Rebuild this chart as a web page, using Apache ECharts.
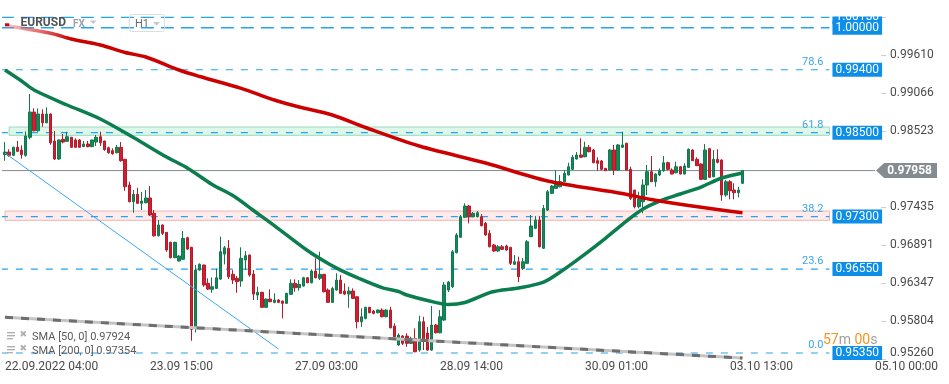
<!DOCTYPE html>
<html><head><meta charset="utf-8">
<script src="https://cdn.jsdelivr.net/npm/echarts@6/dist/echarts.min.js"></script>
<style>html,body{margin:0;padding:0;background:#fff}#c{width:949px;height:384px}</style>
</head><body><div id="c"></div>
<script>
// ---- data ----
// candles: [open, close, low, high]
const ohlc = [
[0.98185,0.98223,0.98099,0.98366],[0.98223,0.98176,0.98156,0.98262],[0.98176,0.98291,0.98166,0.98300],[0.98291,0.98233,0.98228,0.98381],
[0.98252,0.98185,0.98128,0.98319],[0.98176,0.98452,0.98156,0.98519],[0.98434,0.98795,0.98405,0.99053],[0.98795,0.98528,0.98519,0.98848],
[0.98528,0.98767,0.98514,0.98848],[0.98767,0.98642,0.98585,0.98834],[0.98642,0.98767,0.98634,0.98863],[0.98767,0.98356,0.98328,0.98772],
[0.98381,0.98124,0.98109,0.98524],[0.98124,0.98395,0.98109,0.98405],[0.98405,0.98366,0.98348,0.98481],[0.98376,0.98442,0.98366,0.98514],
[0.98434,0.98291,0.98285,0.98440],[0.98395,0.98291,0.98285,0.98419],[0.98395,0.98291,0.98285,0.98409],[0.98300,0.98338,0.98295,0.98381],
[0.98338,0.98300,0.98291,0.98381],[0.98300,0.98395,0.98295,0.98400],[0.98366,0.98434,0.98309,0.98467],[0.98442,0.98356,0.98309,0.98514],
[0.98381,0.98256,0.98242,0.98385],[0.98285,0.98213,0.98199,0.98300],[0.98242,0.98199,0.98185,0.98276],[0.98213,0.98291,0.98205,0.98324],
[0.98291,0.98099,0.98085,0.98366],[0.98119,0.97727,0.97670,0.98125],[0.97752,0.97513,0.97505,0.97799],[0.97513,0.97618,0.97355,0.97680],
[0.97618,0.97490,0.97480,0.97713],[0.97490,0.97523,0.97394,0.97651],[0.97498,0.97566,0.97490,0.97680],[0.97566,0.97323,0.97308,0.97737],
[0.97347,0.97027,0.97013,0.97394],[0.97027,0.97180,0.97013,0.97251],[0.97180,0.97061,0.97037,0.97190],[0.97075,0.96822,0.96798,0.97080],
[0.96932,0.96712,0.96703,0.96941],[0.96712,0.96932,0.96708,0.96941],[0.96665,0.96736,0.96660,0.96751],[0.96689,0.96989,0.96679,0.97094],
[0.96998,0.96836,0.96822,0.97013],[0.96861,0.95688,0.95525,0.96869],[0.95702,0.96536,0.95645,0.96608],[0.96536,0.96618,0.96526,0.96632],
[0.96608,0.96322,0.96297,0.96612],[0.96346,0.96264,0.96250,0.96418],[0.96260,0.96297,0.96211,0.96432],[0.96274,0.96426,0.96268,0.96555],
[0.96407,0.96798,0.96393,0.97013],[0.96765,0.96855,0.96618,0.96880],[0.96847,0.96440,0.96407,0.96965],[0.96475,0.96393,0.96336,0.96536],
[0.96418,0.96369,0.96211,0.96450],[0.96379,0.96703,0.96297,0.96861],[0.96679,0.96741,0.96536,0.96808],[0.96751,0.96465,0.96440,0.96755],
[0.96479,0.96193,0.96107,0.96536],[0.96178,0.96217,0.96107,0.96297],[0.96217,0.96003,0.95998,0.96226],[0.96003,0.96121,0.95997,0.96131],
[0.96121,0.96083,0.96078,0.96260],[0.96074,0.96107,0.96060,0.96203],[0.96107,0.96074,0.96064,0.96121],[0.96093,0.96060,0.95845,0.96098],
[0.96060,0.96203,0.96050,0.96211],[0.96189,0.96346,0.96178,0.96403],[0.96346,0.96283,0.96226,0.96403],[0.96283,0.96332,0.96240,0.96393],
[0.96307,0.96426,0.96297,0.96440],[0.96426,0.96354,0.96350,0.96436],[0.96354,0.96522,0.96346,0.96546],[0.96522,0.96426,0.96418,0.96703],
[0.96418,0.96475,0.96393,0.96798],[0.96475,0.96226,0.96217,0.96480],[0.96250,0.96074,0.96069,0.96274],[0.96074,0.96274,0.96069,0.96297],
[0.96250,0.96393,0.96240,0.96489],[0.96393,0.96203,0.96193,0.96465],[0.96236,0.96193,0.96178,0.96346],[0.96193,0.96236,0.95997,0.96297],
[0.96236,0.96131,0.96121,0.96274],[0.96154,0.95797,0.95702,0.96160],[0.95797,0.95868,0.95725,0.95988],[0.95845,0.96003,0.95831,0.96011],
[0.96003,0.95926,0.95917,0.96011],[0.95950,0.95917,0.95903,0.95964],[0.95926,0.95964,0.95917,0.95974],[0.95964,0.95868,0.95860,0.95988],
[0.95868,0.95964,0.95860,0.95974],[0.95964,0.95711,0.95702,0.96011],[0.95735,0.95582,0.95559,0.95774],[0.95464,0.95607,0.95454,0.95631],
[0.95592,0.95488,0.95464,0.95607],[0.95592,0.95488,0.95439,0.95631],[0.95488,0.95559,0.95478,0.95582],[0.95559,0.95368,0.95360,0.95702],
[0.95392,0.95797,0.95368,0.95883],[0.95797,0.95535,0.95392,0.95868],[0.95635,0.95392,0.95382,0.95721],[0.95392,0.95750,0.95382,0.96021],
[0.95750,0.95639,0.95631,0.95764],[0.95639,0.95868,0.95631,0.95964],[0.95821,0.96322,0.95807,0.96364],[0.96250,0.96364,0.96221,0.96379],
[0.96297,0.96798,0.96279,0.96822],[0.96784,0.97037,0.96775,0.97065],[0.97004,0.97298,0.96994,0.97323],[0.97290,0.97451,0.97280,0.97490],
[0.97451,0.97298,0.97204,0.97466],[0.97298,0.97347,0.97290,0.97366],[0.97298,0.97356,0.97290,0.97380],[0.97298,0.97170,0.97161,0.97337],
[0.97204,0.97037,0.97027,0.97223],[0.97061,0.96869,0.96861,0.97108],[0.96894,0.96808,0.96794,0.96908],[0.96808,0.96869,0.96794,0.96894],
[0.96869,0.96832,0.96822,0.96894],[0.96880,0.96822,0.96812,0.96898],[0.96861,0.96632,0.96608,0.96861],[0.96618,0.96655,0.96608,0.96751],
[0.96655,0.96440,0.96364,0.96727],[0.96560,0.96655,0.96536,0.96708],[0.96632,0.96941,0.96622,0.96965],[0.97013,0.97166,0.97008,0.97323],
[0.97133,0.97251,0.97122,0.97308],[0.97251,0.96869,0.96861,0.97308],[0.96847,0.97418,0.96837,0.97466],[0.97394,0.97656,0.97380,0.97680],
[0.97633,0.97737,0.97623,0.97752],[0.97704,0.97776,0.97694,0.97966],[0.97727,0.97799,0.97719,0.97895],[0.97799,0.97919,0.97794,0.97966],
[0.97895,0.98013,0.97888,0.98071],[0.97976,0.98148,0.97966,0.98181],[0.98124,0.98181,0.98116,0.98223],[0.98181,0.98148,0.98142,0.98419],
[0.98156,0.98291,0.98148,0.98371],[0.98291,0.98228,0.98219,0.98324],[0.98252,0.98071,0.98062,0.98266],[0.98099,0.98062,0.97956,0.98148],
[0.98095,0.97976,0.97966,0.98109],[0.97990,0.97956,0.97952,0.97995],[0.97966,0.98252,0.97959,0.98266],[0.98252,0.97966,0.97895,0.98324],
[0.97966,0.98324,0.97952,0.98338],[0.98291,0.98324,0.98291,0.98514],[0.98348,0.97966,0.97956,0.98356],[0.97976,0.97561,0.97537,0.98013],
[0.97680,0.97441,0.97418,0.97680],[0.97441,0.97551,0.97418,0.97656],[0.97513,0.97752,0.97347,0.97833],[0.97752,0.97942,0.97609,0.98038],
[0.97942,0.97799,0.97794,0.98166],[0.97799,0.97909,0.97727,0.97919],[0.97895,0.97956,0.97880,0.97990],[0.97956,0.98071,0.97942,0.98166],
[0.98071,0.97976,0.97966,0.98085],[0.97966,0.97909,0.97904,0.97990],[0.97927,0.98013,0.97919,0.98085],[0.98013,0.97909,0.97904,0.98023],
[0.97909,0.98023,0.97904,0.98062],[0.98004,0.98262,0.97995,0.98276],[0.98252,0.98099,0.98095,0.98262],[0.98119,0.98028,0.98023,0.98148],
[0.98052,0.97833,0.97827,0.98062],[0.97833,0.98252,0.97823,0.98338],[0.98271,0.97862,0.97852,0.98276],[0.97870,0.98119,0.97862,0.98252],
[0.98119,0.98076,0.98062,0.98262],[0.98109,0.97609,0.97527,0.98119],[0.97609,0.97799,0.97585,0.97823],[0.97799,0.97670,0.97547,0.97823],
[0.97680,0.97642,0.97547,0.97776],[0.97642,0.97680,0.97575,0.97727],[0.97776,0.97958,0.97766,0.97966]
];
// SMA readings: [candle index, value]
const sma50 = [[0,0.99396],[4,0.99239],[7,0.99110],[15,0.98896],[23,0.98695],[31,0.98431],[39,0.98152],[44,0.97995],[50,0.97759],
[55,0.97601],[60,0.97387],[65,0.97172],[73,0.96815],[78,0.96629],[81,0.96536],[85,0.96429],[91,0.96286],[95,0.96229],[97,0.96179],
[102,0.96100],[107,0.96043],[111,0.96072],[117,0.96214],[120,0.96250],[124,0.96279],[130,0.96364],[134,0.96508],[140,0.96765],
[145,0.96994],[150,0.97237],[154,0.97409],[158,0.97523],[163,0.97623],[168,0.97723],[173,0.97852],[178,0.97924]];
const sma200 = [[0,1.00032],[11,0.99921],[16,0.99839],[23,0.99753],[29,0.99646],[34,0.99582],[42,0.99396],[47,0.99303],[57,0.99134],
[65,0.98967],[71,0.98867],[79,0.98753],[87,0.98574],[100,0.98309],[116,0.98066],[131,0.97809],[149,0.97630],[156,0.97544],
[165,0.97458],[178,0.97354]];
const levelPrices = [1.0015, 1.0000, 0.9940, 0.9850, 0.9730, 0.9655, 0.9535];
const fibLabels = ['', '', '78.6', '61.8', '38.2', '23.6', '0.0'];
const zoneGreen = [0.98581, 0.98462];
const zoneRed = [0.97380, 0.97247];
const trendBlue = [[0, 0.98208], [66, 0.95408]];
const trendGrey = [[0, 0.95860], [178, 0.95278]];
const lastPrice = 0.97958;
const sma50Last = '0.97924', sma200Last = '0.97354';
const priceTickLabels = ['0.95260','0.95804','0.96347','0.96891','0.97435','','0.98523','0.99066','0.99610',''];
const priceTickStart = 0.9526, priceTickStep = 0.005437;
const timeTickLabels = ['22.09.2022 04:00','23.09 15:00','27.09 03:00','28.09 14:00','30.09 01:00','03.10 13:00','05.10 00:00'];
const timeTickIdx = [0, 35, 70, 105, 140, 175, 210];

// ---- layout ----
const N = 228, slot = 4.143;
const gridLeft = 5 - slot / 2;
const gridRight = 949 - gridLeft - N * slot;
const yMin = 0.9526, yMax = 1.00397;
const levelStart = -1, levelEnd = 199, priceLineEnd = 210;
const cats = Array.from({length: N}, (_, i) => String(i));
const FONT = 'Roboto';

const chart = echarts.init(document.getElementById('c'), null, {renderer: 'canvas'});

const levelSeries = levelPrices.map((p, k) => ({
  type: 'line', z: 1, clip: false, silent: true, animation: false,
  symbol: 'circle', symbolSize: 0, showSymbol: true,
  lineStyle: {color: '#27a2ec', width: k < 2 ? 1.6 : 1.2, type: k < 2 ? [13, 7] : [7, 8]},
  data: [[levelStart, p], {value: [levelEnd, p], label: {show: fibLabels[k] !== '', formatter: fibLabels[k],
    position: 'top', align: 'right', offset: [-6, 0], distance: 2, color: '#3aa6ee', fontSize: 11, fontFamily: FONT}}],
  endLabel: {show: true, formatter: (pr) => pr.value[1].toFixed(5), distance: 3, color: '#fff',
    backgroundColor: '#0d8ee9', padding: [1, 3, 1, 3], lineHeight: 12, fontSize: 12, fontFamily: FONT},
  markArea: k === 3 ? {silent: true, itemStyle: {color: 'rgba(206,243,226,0.7)', borderColor: '#9cdbbd', borderWidth: 1},
      data: [[{xAxis: 1, yAxis: zoneGreen[0]}, {xAxis: levelEnd, yAxis: zoneGreen[1]}]]}
    : k === 4 ? {silent: true, itemStyle: {color: 'rgba(253,226,226,0.7)', borderColor: '#f4b4b4', borderWidth: 1},
      data: [[{xAxis: 0, yAxis: zoneRed[0]}, {xAxis: levelEnd, yAxis: zoneRed[1]}]]} : undefined
}));

const option = {
  animation: false,
  backgroundColor: '#fff',
  textStyle: {fontFamily: FONT},
  grid: {left: gridLeft, right: gridRight, top: 0, bottom: 24.7},
  xAxis: {
    type: 'category', data: cats, boundaryGap: true,
    axisLine: {show: false}, axisTick: {show: false}, splitLine: {show: false},
    axisLabel: {
      interval: (idx) => timeTickIdx.includes(idx),
      formatter: (v, idx) => { const j = timeTickIdx.indexOf(Number(v)); return j >= 0 ? timeTickLabels[j] : ''; },
      align: 'left', margin: 2, color: '#4a4a4a', fontSize: 12, fontFamily: FONT, hideOverlap: false
    }
  },
  yAxis: [
    {type: 'value', min: yMin, max: yMax, show: false, scale: true},
    {type: 'value', min: 0, max: (yMax - priceTickStart) / priceTickStep, interval: 1, position: 'right', offset: -61.5,
      axisLine: {show: false}, splitLine: {show: false},
      axisTick: {show: true, inside: true, length: 5, lineStyle: {color: '#cfcfcf'}},
      axisLabel: {margin: 4, color: '#4a4a4a', fontSize: 12, fontFamily: FONT, showMaxLabel: false,
        formatter: (v) => { if (Math.abs(v - Math.round(v)) > 1e-6) return ''; const t = priceTickLabels[Math.round(v)] || '';
          return Math.round(v) === 0 ? '{lo|' + t + '}' : t; },
        rich: {lo: {padding: [0, 0, 12, 0], color: '#4a4a4a', fontSize: 12, fontFamily: FONT}}}
    }
  ],
  series: [
    ...levelSeries,
    {
      type: 'line', z: 2, clip: false, silent: true, symbol: 'none',
      lineStyle: {color: '#838a8f', width: 1},
      data: [[levelStart, lastPrice], [priceLineEnd, lastPrice]],
      markPoint: {silent: true, symbol: 'path://M0,8L8,0L60,0L60,16L8,16Z', symbolSize: [61, 15], symbolOffset: [31.5, 0],
        itemStyle: {color: '#858c91'},
        label: {show: true, position: 'inside', offset: [3, 0], formatter: lastPrice.toFixed(5), color: '#fff', fontWeight: 'bold', fontSize: 12, fontFamily: FONT},
        data: [{coord: [priceLineEnd, lastPrice]}]}
    },
    {
      type: 'candlestick', z: 3, barWidth: 3, silent: true,
      itemStyle: {color: '#15885a', color0: '#d21f30', borderColor: '#0f7a4d', borderColor0: '#b51a2a', borderWidth: 1},
      data: ohlc
    },
    {type: 'line', z: 4, silent: true, symbol: 'none', data: trendBlue, lineStyle: {color: '#3aa9ef', width: 1}},
    {type: 'line', z: 4, silent: true, symbol: 'none', data: trendGrey, lineStyle: {color: '#c4c4c4', width: 3}},
    {type: 'line', z: 4, silent: true, symbol: 'none', data: trendGrey, lineStyle: {color: '#6e6e6e', width: 3, type: [8, 8]}},
    {type: 'line', z: 5, silent: true, symbol: 'none', smooth: 0.3, data: sma50, lineStyle: {color: '#0b7d4e', width: 3.5}},
    {type: 'line', z: 5, silent: true, symbol: 'none', smooth: 0.3, data: sma200,
      lineStyle: {width: 3.5, color: {type: 'linear', x: 0, y: 0, x2: 70, y2: 0, global: true,
        colorStops: [{offset: 0, color: 'rgba(230,120,120,0.35)'}, {offset: 1, color: '#cc0000'}]}}}
  ],
  graphic: [
    {type: 'rect', z: 50, shape: {x: 0, y: 0, width: 949, height: 16.5}, style: {fill: '#fff'}},
    {type: 'rect', z: 51, shape: {x: 5, y: 23.3, width: 4.3, height: 2.8}, style: {fill: '#d0021b'}},
    {type: 'text', z: 51, left: 20.5, top: 17.2, style: {text: 'EURUSD', fill: '#4d5358', font: 'bold 12px Roboto'}},
    {type: 'text', z: 51, left: 73, top: 19.5, style: {text: 'FX', fill: '#9aa3aa', font: 'bold 10px Roboto'}},
    {type: 'polygon', z: 51, shape: {points: [[90, 20.5], [96.5, 20.5], [93.25, 24]]}, style: {fill: '#c2c7cb'}},
    {type: 'rect', z: 51, shape: {x: 129.5, y: 14.5, width: 35, height: 17, r: 2}, style: {fill: 'rgba(255,255,255,0)', stroke: '#dcdfe2', lineWidth: 1}},
    {type: 'text', z: 51, left: 135, top: 18.3, style: {text: 'H1', fill: '#666d73', font: '11px Roboto'}},
    {type: 'polygon', z: 51, shape: {points: [[153, 22], [160, 22], [156.5, 25.5]]}, style: {fill: '#c2c7cb'}},
    {type: 'rect', z: 51, shape: {x: 7, y: 332, width: 8, height: 1.4}, style: {fill: '#b0b0b0'}},
    {type: 'rect', z: 51, shape: {x: 7, y: 335, width: 8, height: 1.4}, style: {fill: '#b0b0b0'}},
    {type: 'rect', z: 51, shape: {x: 7, y: 338, width: 6, height: 1.4}, style: {fill: '#b0b0b0'}},
    {type: 'text', z: 51, left: 19.5, top: 330, style: {text: '✖', fill: '#b0b0b0', font: '9px DejaVu Sans'}},
    {type: 'text', z: 51, left: 32, top: 331.5, style: {text: 'SMA [50, 0] ' + sma50Last, fill: '#5a5a5a', font: '11px Roboto'}},
    {type: 'rect', z: 51, shape: {x: 7, y: 346, width: 8, height: 1.4}, style: {fill: '#b0b0b0'}},
    {type: 'rect', z: 51, shape: {x: 7, y: 349, width: 8, height: 1.4}, style: {fill: '#b0b0b0'}},
    {type: 'rect', z: 51, shape: {x: 7, y: 352, width: 6, height: 1.4}, style: {fill: '#b0b0b0'}},
    {type: 'text', z: 51, left: 19.5, top: 344, style: {text: '✖', fill: '#b0b0b0', font: '9px DejaVu Sans'}},
    {type: 'text', z: 51, left: 32, top: 345.5, style: {text: 'SMA [200, 0] ' + sma200Last, fill: '#5a5a5a', font: '11px Roboto'}},
    {type: 'text', z: 51, left: 823, top: 333.5, style: {text: '{o|57}{g|m} {o|00}{g|s}', font: '14px Roboto',
      rich: {o: {fill: '#f7931e', font: '14px Roboto'}, g: {fill: '#a0a0a0', font: '14px Roboto'}}}}
  ]
};
chart.setOption(option);
</script>
</body></html>
